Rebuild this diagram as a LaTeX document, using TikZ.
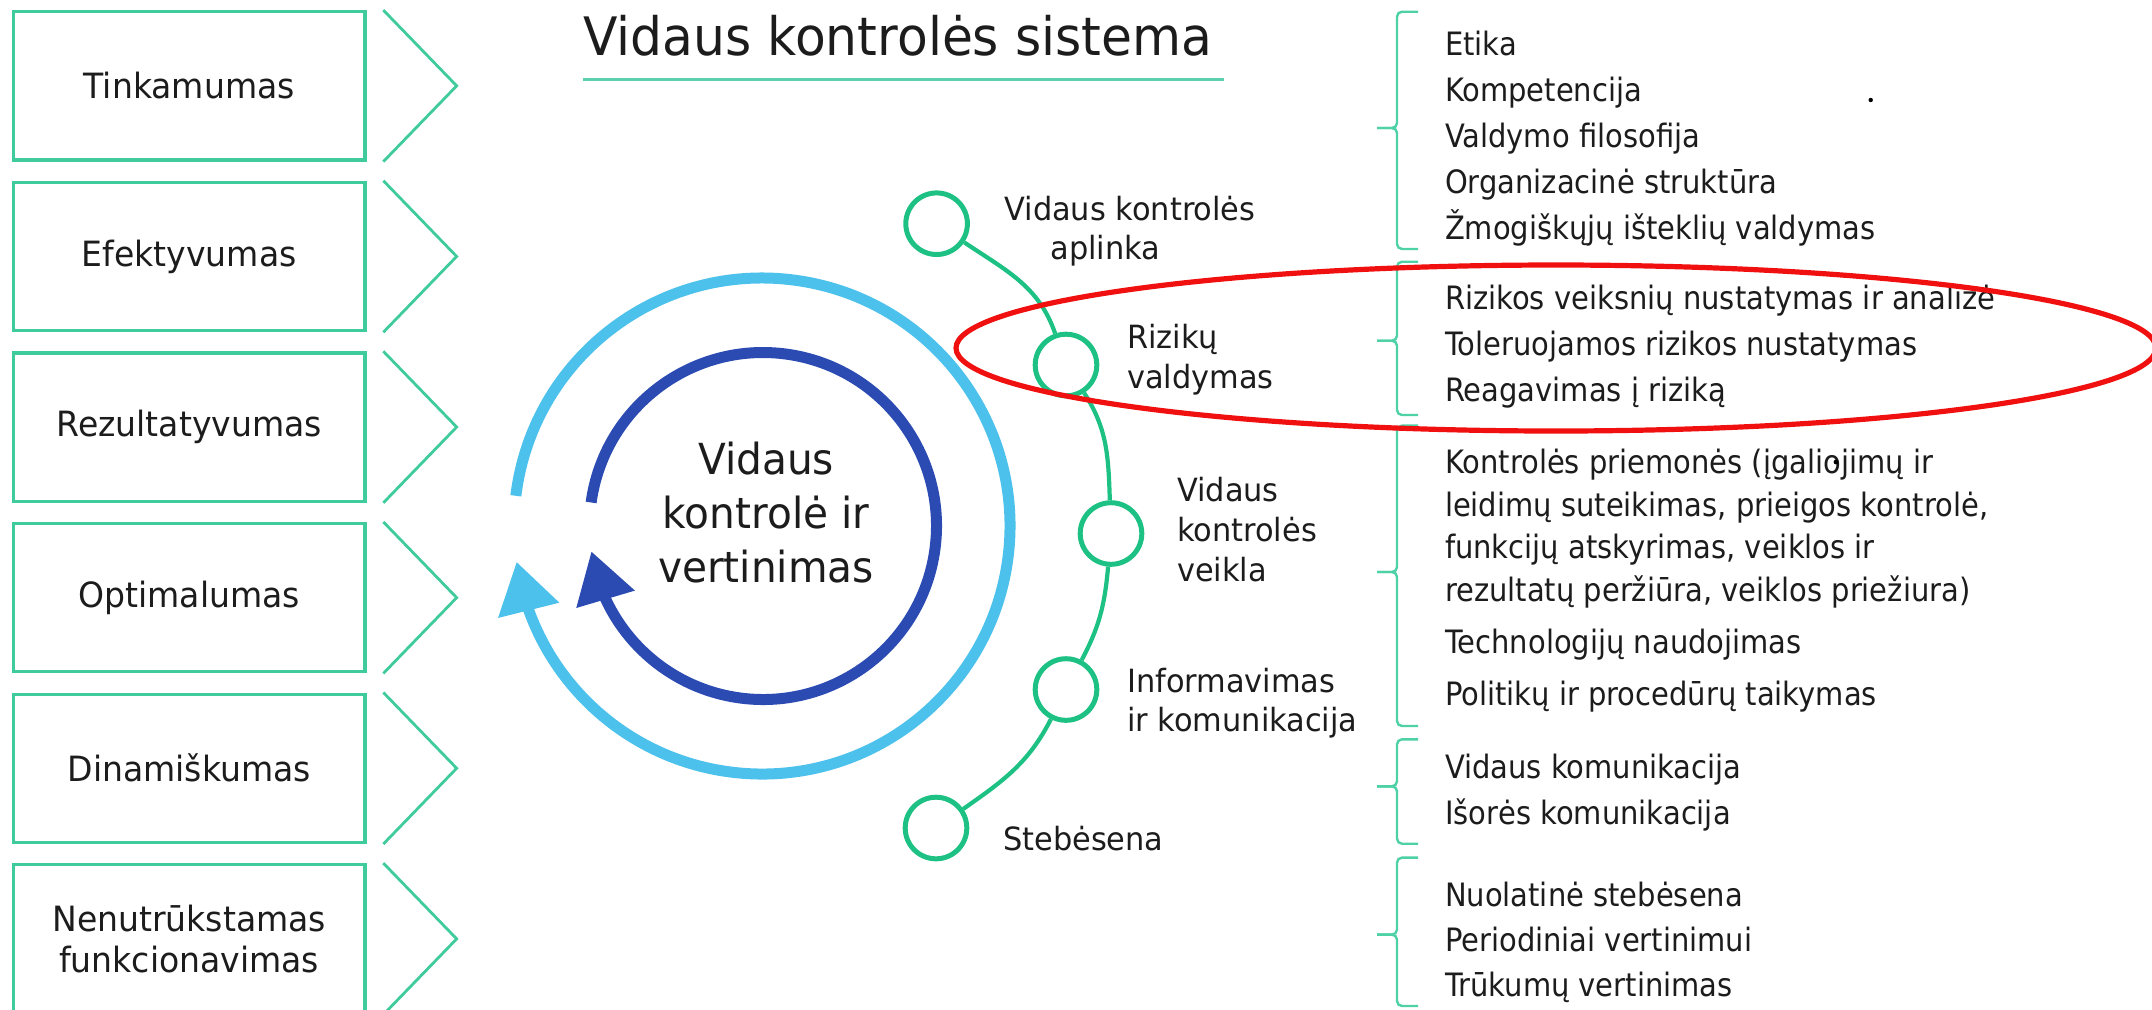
\documentclass[tikz,border=0pt]{standalone}
\usepackage{fontspec}
\setmainfont{DejaVu Sans}[FakeStretch=0.95]
\newfontfamily\rfont{DejaVu Sans}[FakeStretch=0.9]
\usetikzlibrary{arrows.meta,bending}
\definecolor{boxgreen}{HTML}{3FCB9B}
\definecolor{tlgreen}{HTML}{1EC184}
\definecolor{bracegreen}{HTML}{4ED1A6}
\definecolor{ulgreen}{HTML}{5CCFAE}
\definecolor{lightblue}{HTML}{4CC1EC}
\definecolor{darkblue}{HTML}{2B4BB3}
\definecolor{txt}{HTML}{1C1C1C}
\definecolor{ellred}{HTML}{F01010}
\begin{document}
\begin{tikzpicture}[x=0.5pt,y=0.5pt,
  every node/.style={text=txt},
  box/.style={draw=boxgreen, line width=1.6pt, minimum width=175.85pt, minimum height=74.15pt, inner sep=0pt, align=center, font=\fontsize{17.4}{20.5}\selectfont},
  chev/.style={draw=boxgreen, line width=1.4pt},
  tlnode/.style={circle, draw=tlgreen, line width=2.5pt, minimum size=30.8pt, inner sep=0pt},
  tlline/.style={draw=tlgreen, line width=2.1pt},
  lbl/.style={anchor=base west, inner sep=0pt, font=\fontsize{16}{20}\selectfont},
  rtext/.style={anchor=base west, inner sep=0pt, font=\rfont\fontsize{16.1}{21}\selectfont},
  bracepath/.style={draw=bracegreen, line width=1.2pt, rounded corners=2.5pt},
  ring/.style={line width=5.5pt},
]
\useasboundingbox (0,0) rectangle (2152,-1009);
\clip (0,0) rectangle (2152,-1009);

% left boxes
\node[box] (b1) at (189.2,-85.85) {Tinkamumas};
\node[box] (b2) at (189.2,-256.45) {Efektyvumas};
\node[box] (b3) at (189.2,-427.05) {Rezultatyvumas};
\node[box] (b4) at (189.2,-597.65) {Optimalumas};
\node[box] (b5) at (189.2,-768.25) {Dinamiškumas};
\node[box] (b6) at (189.2,-938.85) {Nenutrūkstamas\\funkcionavimas};
\foreach \i in {1,...,6}
  \draw[chev] ([xshift=8.35pt]b\i.north east) -- ([xshift=45pt]b\i.east) -- ([xshift=8.35pt]b\i.south east);

% title
\node[anchor=base west, inner sep=0pt, font=\fontsize{26.5}{30}\selectfont] (title) at (583,-55) {Vidaus kontrolės sistema};
\coordinate (ul1) at (583,-79.3);
\coordinate (ul2) at (1224,-79.3);
\draw[draw=ulgreen, line width=1.7pt] (ul1) -- (ul2);

% rings
\draw[ring, lightblue, -{Triangle[width=30pt,length=25pt,flex]}] (762,-526) ++(173:248) arc[start angle=173, end angle=-171.7, radius=248];
\draw[ring, darkblue, -{Triangle[width=29pt,length=25pt,flex]}] (763,-526) ++(172.2:173.5) arc[start angle=172.2, end angle=-171.6, radius=173.5];
\node[align=center, inner sep=0pt, font=\fontsize{21.4}{27}\selectfont] (ctext) at (766,-513) {Vidaus\\kontrolė ir\\vertinimas};

% timeline
\node[tlnode] (c1) at (936.6,-223.7) {};
\node[tlnode] (c2) at (1066,-365) {};
\node[tlnode] (c3) at (1111,-533.5) {};
\node[tlnode] (c4) at (1066,-689.5) {};
\node[tlnode] (c5) at (936,-828) {};
\draw[tlline] (c1) to[out=-34,in=109] (c2);
\draw[tlline] (c2) to[out=-57,in=92] (c3);
\draw[tlline] (c3) to[out=-95,in=62] (c4);
\draw[tlline] (c4) to[out=-117,in=35] (c5);

\node[lbl] (l1a) at (1004,-220) {Vidaus kontrolės};
\node[lbl] (l1b) at (1050,-259.3) {aplinka};
\node[lbl] (l2a) at (1126.7,-348.7) {Rizikų};
\node[lbl] (l2b) at (1126.7,-388.5) {valdymas};
\node[lbl] (l3a) at (1176.7,-501.8) {Vidaus};
\node[lbl] (l3b) at (1176.7,-541.6) {kontrolės};
\node[lbl] (l3c) at (1176.7,-581) {veikla};
\node[lbl] (l4a) at (1126.7,-692) {Informavimas};
\node[lbl] (l4b) at (1126.7,-731.4) {ir komunikacija};
\node[lbl] (l5) at (1002.7,-850) {Stebėsena};

% braces
\foreach \t/\m/\b in {11.7/128/249, 261.7/340.7/415, 425.6/572/726, 739.3/786.3/843.7, 857.6/934.6/1006}{
  \draw[bracepath] (1418,-\t) -- (1397,-\t) -- (1397,-\m) -- (1377,-\m);
  \draw[bracepath] (1377,-\m) -- (1397,-\m) -- (1397,-\b) -- (1418,-\b);
}

% right column
\node[rtext] (r1) at (1444.6,-55) {Etika};
\node[rtext] (r2) at (1444.6,-101) {Kompetencija};
\node[rtext] (r3) at (1444.6,-147.5) {Valdymo filosofija};
\node[rtext] (r4) at (1444.6,-193.5) {Organizacinė struktūra};
\node[rtext] (r5) at (1444.6,-239.5) {Žmogiškųjų išteklių valdymas};
\node[rtext] (r6) at (1444.6,-309.5) {Rizikos veiksnių nustatymas ir analizė};
\node[rtext] (r7) at (1444.6,-355.5) {Toleruojamos rizikos nustatymas};
\node[rtext] (r8) at (1444.6,-401) {Reagavimas į riziką};
\node[rtext] (r9) at (1444.6,-473.5) {Kontrolės priemonės (įgaliojimų ir};
\node[rtext] (r10) at (1444.6,-516.5) {leidimų suteikimas, prieigos kontrolė,};
\node[rtext] (r11) at (1444.6,-558.5) {funkcijų atskyrimas, veiklos ir};
\node[rtext] (r12) at (1444.6,-601) {rezultatų peržiūra, veiklos priežiura)};
\node[rtext] (r13) at (1444.6,-653.5) {Technologijų naudojimas};
\node[rtext] (r14) at (1444.6,-705.3) {Politikų ir procedūrų taikymas};
\node[rtext] (r15) at (1444.6,-778.7) {Vidaus komunikacija};
\node[rtext] (r16) at (1444.6,-824.2) {Išorės komunikacija};
\node[rtext] (r17) at (1444.6,-906.3) {Nuolatinė stebėsena};
\node[rtext] (r18) at (1444.6,-951.3) {Periodiniai vertinimui};
\node[rtext] (r19) at (1444.6,-996.5) {Trūkumų vertinimas};

% stray dots
\fill[black] (1870.7,-100) circle[radius=2.2];
\fill[black] (1836,-462) circle[radius=2.4];

% red ellipse
\draw[draw=ellred, line width=2.6pt] (1556,-348) ellipse[x radius=600, y radius=83];
\end{tikzpicture}
\end{document}
